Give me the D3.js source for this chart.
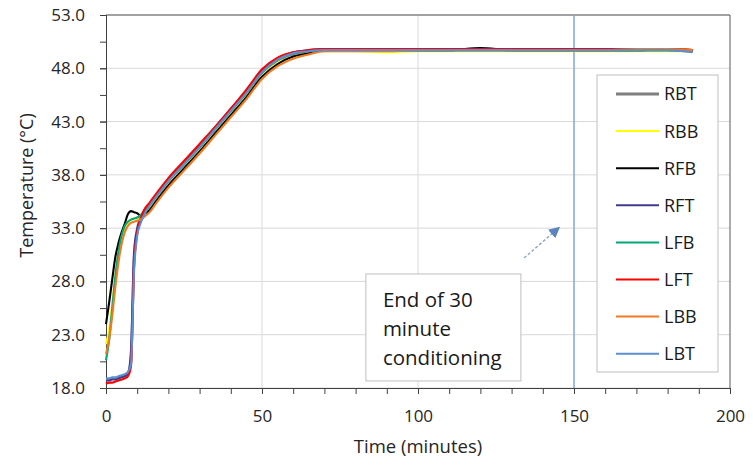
<!DOCTYPE html>
<html>
<head>
<meta charset="utf-8">
<script src="https://cdn.jsdelivr.net/npm/d3@7"></script>
<style>
  body { margin: 0; background: #fff; }
  svg { display: block; font-family: "Open Sans", sans-serif; }
</style>
</head>
<body>
<svg id="chart" width="753" height="467"></svg>
<script>
/* Data */
var times = [0, 1, 2, 3, 4, 5, 6, 7, 8, 9, 10, 11, 12, 14, 16, 20, 25, 30, 35, 40, 45, 50, 55, 60, 65,
             70, 80, 90, 100, 110, 120, 130, 140, 150, 160, 170, 180, 188];

var seriesNames = ["RBT", "RBB", "RFB", "RFT", "LFB", "LFT", "LBB", "LBT"];

var rbt = [18.8, 18.8, 18.9, 18.9, 19.0, 19.1, 19.2, 19.4, 20.5, 30.0, 32.6, 33.6, 34.2,
           35.0, 35.8, 37.3, 38.9, 40.5, 42.2, 43.9, 45.6, 47.5, 48.7, 49.3, 49.6,
           49.7, 49.7, 49.7, 49.7, 49.7, 49.7, 49.7, 49.7, 49.7, 49.7, 49.7, 49.7, 49.6];
var rbb = [22.1, 23.5, 25.8, 28.5, 30.5, 32.0, 33.0, 33.5, 33.8, 33.9, 33.9, 34.0, 34.2,
           34.8, 35.6, 37.1, 38.7, 40.3, 42.0, 43.7, 45.4, 47.3, 48.5, 49.1, 49.4,
           49.6, 49.6, 49.5, 49.6, 49.6, 49.6, 49.6, 49.6, 49.6, 49.6, 49.6, 49.6, 49.6];
var rfb = [24.0, 26.0, 28.2, 30.3, 31.6, 32.6, 33.4, 34.3, 34.6, 34.5, 34.4, 34.2, 34.3,
           34.7, 35.5, 37.0, 38.6, 40.2, 41.9, 43.6, 45.3, 47.2, 48.4, 49.1, 49.4,
           49.7, 49.7, 49.7, 49.7, 49.7, 49.9, 49.7, 49.7, 49.7, 49.7, 49.7, 49.8, 49.7];
var rft = [18.7, 18.7, 18.8, 18.8, 18.9, 19.0, 19.1, 19.3, 21.5, 30.8, 33.0, 33.9, 34.5,
           35.3, 36.1, 37.6, 39.2, 40.8, 42.5, 44.2, 45.9, 47.8, 48.9, 49.5, 49.7,
           49.8, 49.8, 49.7, 49.7, 49.7, 49.7, 49.7, 49.7, 49.7, 49.7, 49.7, 49.7, 49.6];
var lfb = [20.6, 22.5, 25.5, 28.5, 30.8, 32.3, 33.2, 33.6, 33.8, 33.9, 34.0, 34.2, 34.5,
           35.2, 36.0, 37.5, 39.0, 40.6, 42.3, 44.0, 45.7, 47.6, 48.8, 49.4, 49.6,
           49.7, 49.7, 49.7, 49.7, 49.7, 49.7, 49.7, 49.7, 49.7, 49.7, 49.7, 49.7, 49.6];
var lft = [18.4, 18.5, 18.5, 18.6, 18.7, 18.8, 18.9, 19.1, 20.0, 29.5, 32.6, 33.8, 34.6,
           35.4, 36.2, 37.7, 39.3, 40.9, 42.5, 44.2, 46.0, 47.9, 49.0, 49.5, 49.7,
           49.8, 49.8, 49.8, 49.8, 49.8, 49.8, 49.8, 49.8, 49.8, 49.8, 49.8, 49.8, 49.7];
var lbb = [21.2, 22.6, 24.8, 27.5, 29.8, 31.5, 32.6, 33.2, 33.5, 33.6, 33.7, 33.8, 34.0,
           34.5, 35.3, 36.8, 38.4, 40.0, 41.7, 43.4, 45.1, 47.0, 48.2, 48.9, 49.3,
           49.6, 49.6, 49.6, 49.7, 49.7, 49.7, 49.7, 49.7, 49.7, 49.7, 49.8, 49.8, 49.7];
var lbt = [18.9, 18.9, 19.0, 19.0, 19.1, 19.2, 19.3, 19.5, 20.2, 29.0, 32.3, 33.4, 34.1,
           35.1, 35.9, 37.4, 39.0, 40.6, 42.3, 44.0, 45.7, 47.6, 48.8, 49.4, 49.6,
           49.7, 49.7, 49.7, 49.7, 49.7, 49.7, 49.7, 49.7, 49.7, 49.7, 49.7, 49.7, 49.5];

var seriesValues = [rbt, rbb, rfb, rft, lfb, lft, lbb, lbt];
var seriesColors = ["#7f7f7f", "#ffff00", "#000000", "#3f3b8f", "#00a878", "#ff0000", "#f07a24", "#5b8fd0"];

var xTicks = [0, 50, 100, 150, 200];
var yTicks = [18, 23, 28, 33, 38, 43, 48, 53];

var conditioningEnd = 150;
var noteLines = ["End of 30", "minute", "conditioning"];

/* Layout */
var svg = d3.select("svg#chart");
var margin = { top: 15, right: 23, bottom: 79, left: 106 };
var W = 753, H = 467;

var x = d3.scaleLinear().domain([0, 200]).range([margin.left, W - margin.right]);
var y = d3.scaleLinear().domain([18, 53]).range([H - margin.bottom, margin.top]);

/* gridlines */
svg.append("g")
  .selectAll("line.hgrid")
  .data(yTicks)
  .enter().append("line")
  .attr("x1", x(0)).attr("x2", x(200))
  .attr("y1", d => y(d)).attr("y2", d => y(d))
  .attr("stroke", "#d9d9d9").attr("stroke-width", 1);

svg.append("g")
  .selectAll("line.vgrid")
  .data(xTicks.slice(1, -1))
  .enter().append("line")
  .attr("x1", d => x(d)).attr("x2", d => x(d))
  .attr("y1", y(18)).attr("y2", y(53))
  .attr("stroke", "#d9d9d9").attr("stroke-width", 1);

/* plot frame (top/right) */
svg.append("path")
  .attr("d", `M${x(0)},${y(53)}H${x(200)}V${y(18)}`)
  .attr("fill", "none").attr("stroke", "#595959").attr("stroke-width", 1);

/* end of conditioning marker */
svg.append("line")
  .attr("x1", x(conditioningEnd)).attr("x2", x(conditioningEnd))
  .attr("y1", y(53)).attr("y2", y(18))
  .attr("stroke", "#86abd9").attr("stroke-width", 1.5);

/* axes */
var xMinor = svg.append("g")
  .attr("transform", `translate(0,${y(18)})`)
  .call(d3.axisBottom(x).tickValues(d3.range(0, 201, 10)).tickSize(6).tickFormat(""));
var xAxis = svg.append("g")
  .attr("transform", `translate(0,${y(18)})`)
  .call(d3.axisBottom(x).tickValues(xTicks).tickSize(6).tickPadding(16).tickFormat(d3.format("d")));

var yMinor = svg.append("g")
  .attr("transform", `translate(${x(0)},0)`)
  .call(d3.axisLeft(y).tickValues(d3.range(18, 53.1, 2.5)).tickSize(6).tickFormat(""));
var yAxis = svg.append("g")
  .attr("transform", `translate(${x(0)},0)`)
  .call(d3.axisLeft(y).tickValues(yTicks).tickSize(6).tickPadding(15).tickFormat(d3.format(".1f")));

[xMinor, xAxis, yMinor, yAxis].forEach(function (g) {
  g.select(".domain").attr("stroke", "#404040");
  g.selectAll(".tick line").attr("stroke", "#404040");
  g.selectAll("text")
    .style("font-family", "'Open Sans', sans-serif")
    .style("font-size", "17px")
    .attr("fill", "#262626");
});

/* axis titles */
svg.append("text")
  .attr("x", (x(0) + x(200)) / 2)
  .attr("y", 453)
  .attr("text-anchor", "middle")
  .style("font-size", "18.5px")
  .attr("fill", "#262626")
  .text("Time (minutes)");

svg.append("text")
  .attr("transform", `translate(33,${(y(18) + y(53)) / 2 - 16}) rotate(-90)`)
  .attr("text-anchor", "middle")
  .style("font-size", "18px")
  .attr("fill", "#262626")
  .text("Temperature (°C)");

/* series lines */
var line = d3.line()
  .x(d => x(d[0]))
  .y(d => y(d[1]))
  .curve(d3.curveMonotoneX);

svg.append("g")
  .selectAll("path.series")
  .data(seriesNames)
  .enter().append("path")
  .attr("class", "series")
  .attr("fill", "none")
  .attr("stroke", (d, i) => seriesColors[i])
  .attr("stroke-width", (d, i) => i === 0 ? 2.6 : 2.1)
  .attr("stroke-linejoin", "round")
  .attr("d", (d, i) => line(times.map((t, j) => [t, seriesValues[i][j]])));

/* annotation */
var defs = svg.append("defs");
defs.append("marker")
  .attr("id", "arrow")
  .attr("viewBox", "0 0 10 10")
  .attr("refX", 8).attr("refY", 5)
  .attr("markerWidth", 8).attr("markerHeight", 8)
  .attr("orient", "auto")
  .append("path")
  .attr("d", "M0,0L10,5L0,10Z")
  .attr("fill", "#5b86bd");

svg.append("line")
  .attr("x1", x(134)).attr("y1", y(30.2))
  .attr("x2", x(145)).attr("y2", y(33.0))
  .attr("stroke", "#8aa6c8").attr("stroke-width", 1.4)
  .attr("stroke-dasharray", "3,2")
  .attr("marker-end", "url(#arrow)");

var noteX = x(83.3), noteY = y(28.7);
svg.append("rect")
  .attr("x", noteX).attr("y", noteY)
  .attr("width", 155).attr("height", 107)
  .attr("fill", "#fff").attr("stroke", "#bfbfbf").attr("stroke-width", 1);

svg.append("g")
  .selectAll("text")
  .data(noteLines)
  .enter().append("text")
  .attr("x", noteX + 17)
  .attr("y", (d, i) => noteY + 33 + i * 29)
  .style("font-size", "20.5px")
  .attr("fill", "#1a1a1a")
  .text(d => d);

/* legend */
var legend = svg.append("g").attr("transform", "translate(597,75)");
legend.append("rect")
  .attr("width", 121).attr("height", 297)
  .attr("fill", "#fff").attr("stroke", "#bfbfbf").attr("stroke-width", 1);

var item = legend.selectAll("g.item")
  .data(seriesNames)
  .enter().append("g")
  .attr("class", "item")
  .attr("transform", (d, i) => `translate(0,${19 + i * 37.1})`);

item.append("line")
  .attr("x1", 19).attr("x2", 62)
  .attr("stroke", (d, i) => seriesColors[i])
  .attr("stroke-width", (d, i) => i === 0 ? 3 : 2);

item.append("text")
  .attr("x", 67).attr("dy", "0.36em")
  .style("font-size", "18px")
  .attr("fill", "#1a1a1a")
  .text(d => d);
</script>
</body>
</html>
